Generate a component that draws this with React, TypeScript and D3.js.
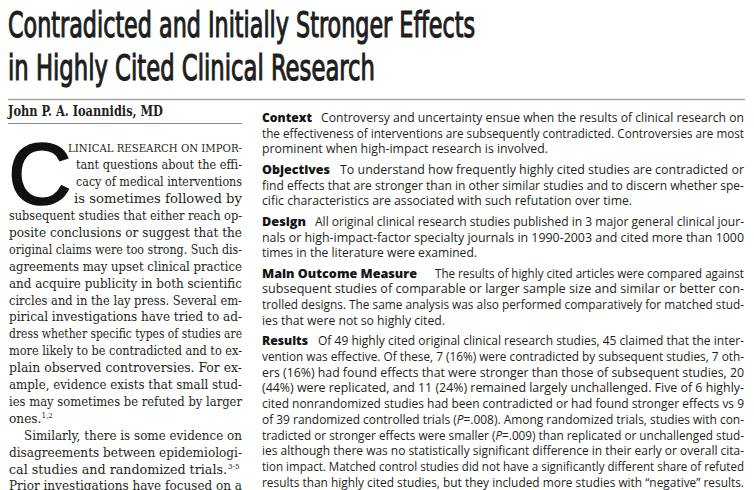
import React from "react";
import * as d3 from "d3";

// ---------- text content ----------
const TITLE_LINES = [
  "Contradicted and Initially Stronger Effects",
  "in Highly Cited Clinical Research",
];
const AUTHOR = "John P. A. Ioannidis, MD";
const DROP_CAP = "C";
const LEAD_LINES = [
  "LINICAL RESEARCH ON IMPOR-",
  "tant questions about the effi-",
  "cacy of medical interventions",
  "is sometimes followed by",
];
const BODY_LINES = [
  "subsequent studies that either reach op-",
  "posite conclusions or suggest that the",
  "original claims were too strong. Such dis-",
  "agreements may upset clinical practice",
  "and acquire publicity in both scientific",
  "circles and in the lay press. Several em-",
  "pirical investigations have tried to ad-",
  "dress whether specific types of studies are",
  "more likely to be contradicted and to ex-",
  "plain observed controversies. For ex-",
  "ample, evidence exists that small stud-",
  "ies may sometimes be refuted by larger",
  "ones.",
  "Similarly, there is some evidence on",
  "disagreements between epidemiologi-",
  "cal studies and randomized trials.",
  "Prior investigations have focused on a",
];
const BODY_SUPERSCRIPTS = ["", "", "", "", "", "", "", "", "", "", "", "", "1,2", "", "", "3-5", ""];

const SECTION_LABELS = ["Context", "Objectives", "Design", "Main Outcome Measure", "Results"];
const CONTEXT_LINES = [
  "Controversy and uncertainty ensue when the results of clinical research on",
  "the effectiveness of interventions are subsequently contradicted. Controversies are most",
  "prominent when high-impact research is involved.",
];
const OBJECTIVES_LINES = [
  "To understand how frequently highly cited studies are contradicted or",
  "find effects that are stronger than in other similar studies and to discern whether spe-",
  "cific characteristics are associated with such refutation over time.",
];
const DESIGN_LINES = [
  "All original clinical research studies published in 3 major general clinical jour-",
  "nals or high-impact-factor specialty journals in 1990-2003 and cited more than 1000",
  "times in the literature were examined.",
];
const MEASURE_LINES = [
  "The results of highly cited articles were compared against",
  "subsequent studies of comparable or larger sample size and similar or better con-",
  "trolled designs. The same analysis was also performed comparatively for matched stud-",
  "ies that were not so highly cited.",
];
const RESULTS_LINES = [
  "Of 49 highly cited original clinical research studies, 45 claimed that the inter-",
  "vention was effective. Of these, 7 (16%) were contradicted by subsequent studies, 7 oth-",
  "ers (16%) had found effects that were stronger than those of subsequent studies, 20",
  "(44%) were replicated, and 11 (24%) remained largely unchallenged. Five of 6 highly-",
  "cited nonrandomized studies had been contradicted or had found stronger effects vs 9",
  "of 39 randomized controlled trials (P=.008). Among randomized trials, studies with con-",
  "tradicted or stronger effects were smaller (P=.009) than replicated or unchallenged stud-",
  "ies although there was no statistically significant difference in their early or overall cita-",
  "tion impact. Matched control studies did not have a significantly different share of refuted",
  "results than highly cited studies, but they included more studies with \u201cnegative\u201d results.",
];
const SECTION_LINES = [CONTEXT_LINES, OBJECTIVES_LINES, DESIGN_LINES, MEASURE_LINES, RESULTS_LINES];

// ---------- layout ----------
const W = 754;
const H = 490;
const TITLE_X = 8;
const TITLE_ENDS = [475, 375];
const TITLE_BASELINES = [37, 80];
const LEFT_X0 = 9;
const LEFT_X1 = 242;
const LEAD_STARTS = [68, 76, 76, 74];
const INDENTED = [13];
const NATURAL = [12];
const RIGHT_X0 = 262;
const RIGHT_X1 = 744;
const LABEL_ENDS = [312, 330, 306, 417, 308];
const TEXT_STARTS = [321, 340, 315, 435, 318];
const LAST_ENDS = [548, 632, 477, 445, 744];
const PARA_GAP = 4.8;

const INK = "#231f20";
const SERIF = "'DejaVu Serif Condensed', 'DejaVu Serif', 'Liberation Serif', serif";
const SANS = "'Open Sans', 'Noto Sans', sans-serif";

function withItalicP(line: string) {
  const parts = line.split(/(P(?==))/);
  return parts.map((p, i) =>
    p === "P" ? (
      <tspan key={i} fontStyle="italic">P</tspan>
    ) : (
      <tspan key={i}>{p}</tspan>
    )
  );
}

export default function App() {
  // left column baselines: index 0 = first drop-cap line
  const leftY = d3.scaleLinear().domain([0, 1]).range([152.4, 169.3]);
  // right column baselines by global line index
  const rightY = d3.scaleLinear().domain([0, 1]).range([122, 137.7]);

  let globalIdx = 0;
  const rightBlocks = SECTION_LINES.map((lines, s) => {
    const first = globalIdx;
    globalIdx += lines.length;
    const yOf = (j: number) => rightY(first + j) + s * PARA_GAP;
    return (
      <g key={s}>
        <text
          x={RIGHT_X0}
          y={yOf(0)}
          fontFamily={SANS}
          fontWeight={800}
          fontSize={11.8}
          fill="#141414"
          textLength={LABEL_ENDS[s] - RIGHT_X0}
          lengthAdjust="spacingAndGlyphs"
        >
          {SECTION_LABELS[s]}
        </text>
        {lines.map((ln, j) => {
          const x0 = j === 0 ? TEXT_STARTS[s] : RIGHT_X0;
          const x1 = j === lines.length - 1 ? LAST_ENDS[s] : RIGHT_X1;
          return (
            <text
              key={j}
              x={x0}
              y={yOf(j)}
              fontFamily={SANS}
              fontSize={11.7}
              fill={INK}
              textLength={x1 - x0}
              lengthAdjust="spacingAndGlyphs"
            >
              {withItalicP(ln)}
            </text>
          );
        })}
      </g>
    );
  });

  return (
    <svg
      width={W}
      height={H}
      viewBox={`0 0 ${W} ${H}`}
      style={{ position: "absolute", left: 0, top: 0, background: "#fff" }}
    >
      <rect x={0} y={0} width={W} height={H} fill="#fff" />
      {TITLE_LINES.map((t, i) => (
        <text
          key={i}
          x={TITLE_X}
          y={TITLE_BASELINES[i]}
          fontFamily="'Liberation Sans Narrow', 'DejaVu Sans Condensed', 'Liberation Sans', sans-serif"
          fontStretch="condensed"
          fontSize={35.5}
          fill="#1e1e1e"
          stroke="#1e1e1e"
          strokeWidth={1.1}
          textLength={TITLE_ENDS[i] - TITLE_X}
          lengthAdjust="spacingAndGlyphs"
        >
          {t}
        </text>
      ))}
      <line x1={8} x2={745} y1={99.5} y2={99.5} stroke="#a6a6a6" strokeWidth={1.6} />

      <text
        x={8}
        y={116}
        fontFamily={SERIF}
        fontWeight={700}
        fontSize={15}
        fill={INK}
        textLength={155}
        lengthAdjust="spacingAndGlyphs"
      >
        {AUTHOR}
      </text>
      <line x1={8} x2={242} y1={123.5} y2={123.5} stroke="#8a8a8a" strokeWidth={1} />

      <text
        x={8}
        y={204}
        fontFamily="'Liberation Sans', sans-serif"
        fontSize={88}
        fill="#111"
        stroke="#111"
        strokeWidth={1.6}
      >
        {DROP_CAP}
      </text>

      {LEAD_LINES.map((ln, i) => (
        <text
          key={i}
          x={LEAD_STARTS[i]}
          y={leftY(i)}
          fontFamily={SERIF}
          fontSize={i === 0 ? 10.8 : 13.5}
          fill={INK}
          textLength={LEFT_X1 - LEAD_STARTS[i]}
          lengthAdjust="spacingAndGlyphs"
        >
          {ln}
        </text>
      ))}

      {BODY_LINES.map((ln, k) => {
        const i = k + LEAD_LINES.length;
        const x0 = INDENTED.includes(k) ? 24 : LEFT_X0;
        const sup = BODY_SUPERSCRIPTS[k];
        const natural = NATURAL.includes(k);
        const supW = sup ? 15 : 0;
        return (
          <g key={k}>
            <text
              x={x0}
              y={leftY(i)}
              fontFamily={SERIF}
              fontSize={13.5}
              fill={INK}
              {...(natural
                ? {}
                : { textLength: LEFT_X1 - supW - x0, lengthAdjust: "spacingAndGlyphs" })}
            >
              {ln}
              {natural && sup ? (
                <tspan dy={-5} fontSize={8}>
                  {sup}
                </tspan>
              ) : null}
            </text>
            {!natural && sup ? (
              <text x={LEFT_X1 - supW + 1} y={leftY(i) - 5} fontFamily={SERIF} fontSize={8} fill={INK}>
                {sup}
              </text>
            ) : null}
          </g>
        );
      })}

      {rightBlocks}
    </svg>
  );
}
